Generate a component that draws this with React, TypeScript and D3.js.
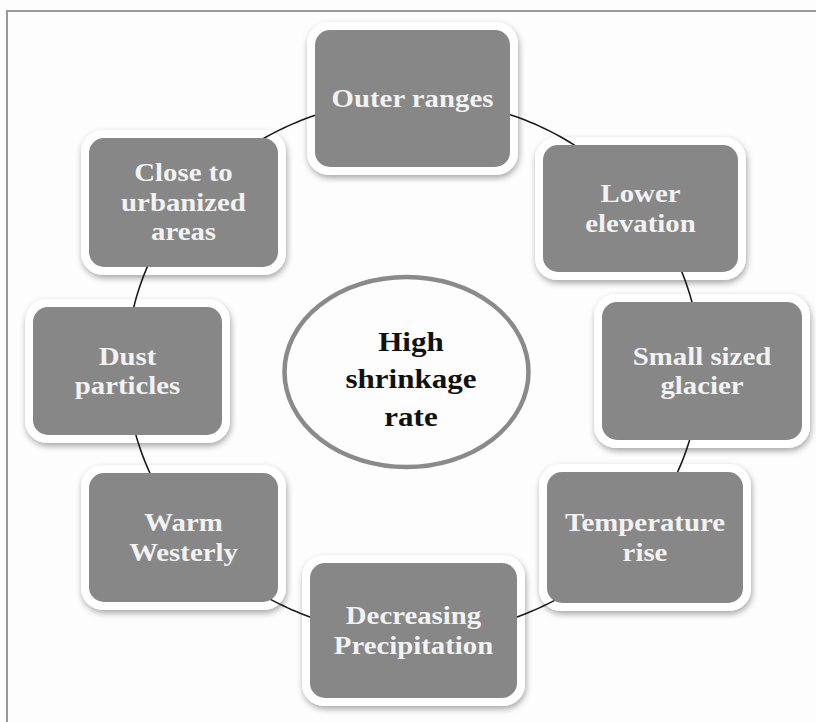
import React from "react";
import * as d3 from "d3";

// ---- content ----
const nodeLabels: string[][] = [
  ["Outer ranges"],
  ["Lower", "elevation"],
  ["Small sized", "glacier"],
  ["Temperature", "rise"],
  ["Decreasing", "Precipitation"],
  ["Warm", "Westerly"],
  ["Dust", "particles"],
  ["Close to", "urbanized", "areas"],
];
const centerLabel: string[] = ["High", "shrinkage", "rate"];

// ---- layout (gray box extents: x0, y0, x1, y1) ----
const nodeBoxes: [number, number, number, number][] = [
  [315, 30, 510, 167],
  [543, 145, 738, 272],
  [602, 302, 802, 440],
  [547, 472, 743, 603],
  [310, 563, 517, 698],
  [89, 473, 278, 602],
  [33, 307, 222, 435],
  [89, 138, 278, 267],
];
const ring = { cx: 413.5, cy: 367, rx: 287, ry: 268 };
const hub = { cx: 406.5, cy: 372, rx: 122, ry: 95 };

const W = 816;
const H = 722;
const BORDER = 8;
const FONT = "'Liberation Serif', 'Times New Roman', serif";

export default function App() {
  const lineH = 29.5;
  const ringLine = d3
    .line<number>()
    .x((a) => ring.cx + ring.rx * Math.cos(a))
    .y((a) => ring.cy + ring.ry * Math.sin(a))
    .curve(d3.curveLinearClosed);
  const ringD = ringLine(d3.range(0, Math.PI * 2, Math.PI / 180)) || "";

  return (
    <svg
      width={W}
      height={H}
      style={{ position: "absolute", left: 0, top: 0, display: "block" }}
    >
      <defs>
        <filter id="shadow" x="-20%" y="-20%" width="140%" height="150%">
          <feDropShadow dx="1" dy="3" stdDeviation="3" floodColor="#000" floodOpacity="0.35" />
        </filter>
      </defs>
      <rect x={0} y={0} width={W} height={H} fill="#fdfdfd" />
      <rect x={7} y={11} width={W + 20} height={H + 20} fill="none" stroke="#9a9a9a" strokeWidth={2} />

      {/* white borders with shadow */}
      {nodeBoxes.map(([x0, y0, x1, y1], i) => (
        <rect
          key={"b" + i}
          x={x0 - BORDER}
          y={y0 - BORDER}
          width={x1 - x0 + 2 * BORDER}
          height={y1 - y0 + 2 * BORDER}
          rx={22}
          ry={22}
          fill="#ffffff"
          filter="url(#shadow)"
        />
      ))}

      {/* connecting ring */}
      <path d={ringD} fill="none" stroke="#1a1a1a" strokeWidth={1.6} />

      {/* gray boxes */}
      {nodeBoxes.map(([x0, y0, x1, y1], i) => (
        <rect
          key={"g" + i}
          x={x0}
          y={y0}
          width={x1 - x0}
          height={y1 - y0}
          rx={15}
          ry={15}
          fill="#878787"
        />
      ))}

      {/* box labels */}
      {nodeBoxes.map(([x0, y0, x1, y1], i) => {
        const cx = (x0 + x1) / 2;
        const cy = (y0 + y1) / 2;
        const lines = nodeLabels[i];
        const n = lines.length;
        return (
          <g key={"t" + i} transform={`translate(${cx},${cy}) scale(1.13,1)`}>
            {lines.map((s, j) => (
              <text
                key={j}
                x={0}
                y={8.4 + (j - (n - 1) / 2) * lineH}
                textAnchor="middle"
                fontFamily={FONT}
                fontWeight="bold"
                fontSize={25.5}
                fill="#f2f2f2"
              >
                {s}
              </text>
            ))}
          </g>
        );
      })}

      {/* central ellipse */}
      <ellipse
        cx={hub.cx}
        cy={hub.cy}
        rx={hub.rx}
        ry={hub.ry}
        fill="#fdfdfd"
        stroke="#8a8a8a"
        strokeWidth={4.5}
      />
      <g transform={`translate(${hub.cx + 4.5},${hub.cy + 7}) scale(1.13,1)`}>
        {centerLabel.map((s, j) => (
          <text
            key={j}
            x={0}
            y={9.2 + (j - 1) * 37.5}
            textAnchor="middle"
            fontFamily={FONT}
            fontWeight="bold"
            fontSize={27.5}
            fill="#111"
          >
            {s}
          </text>
        ))}
      </g>
    </svg>
  );
}
